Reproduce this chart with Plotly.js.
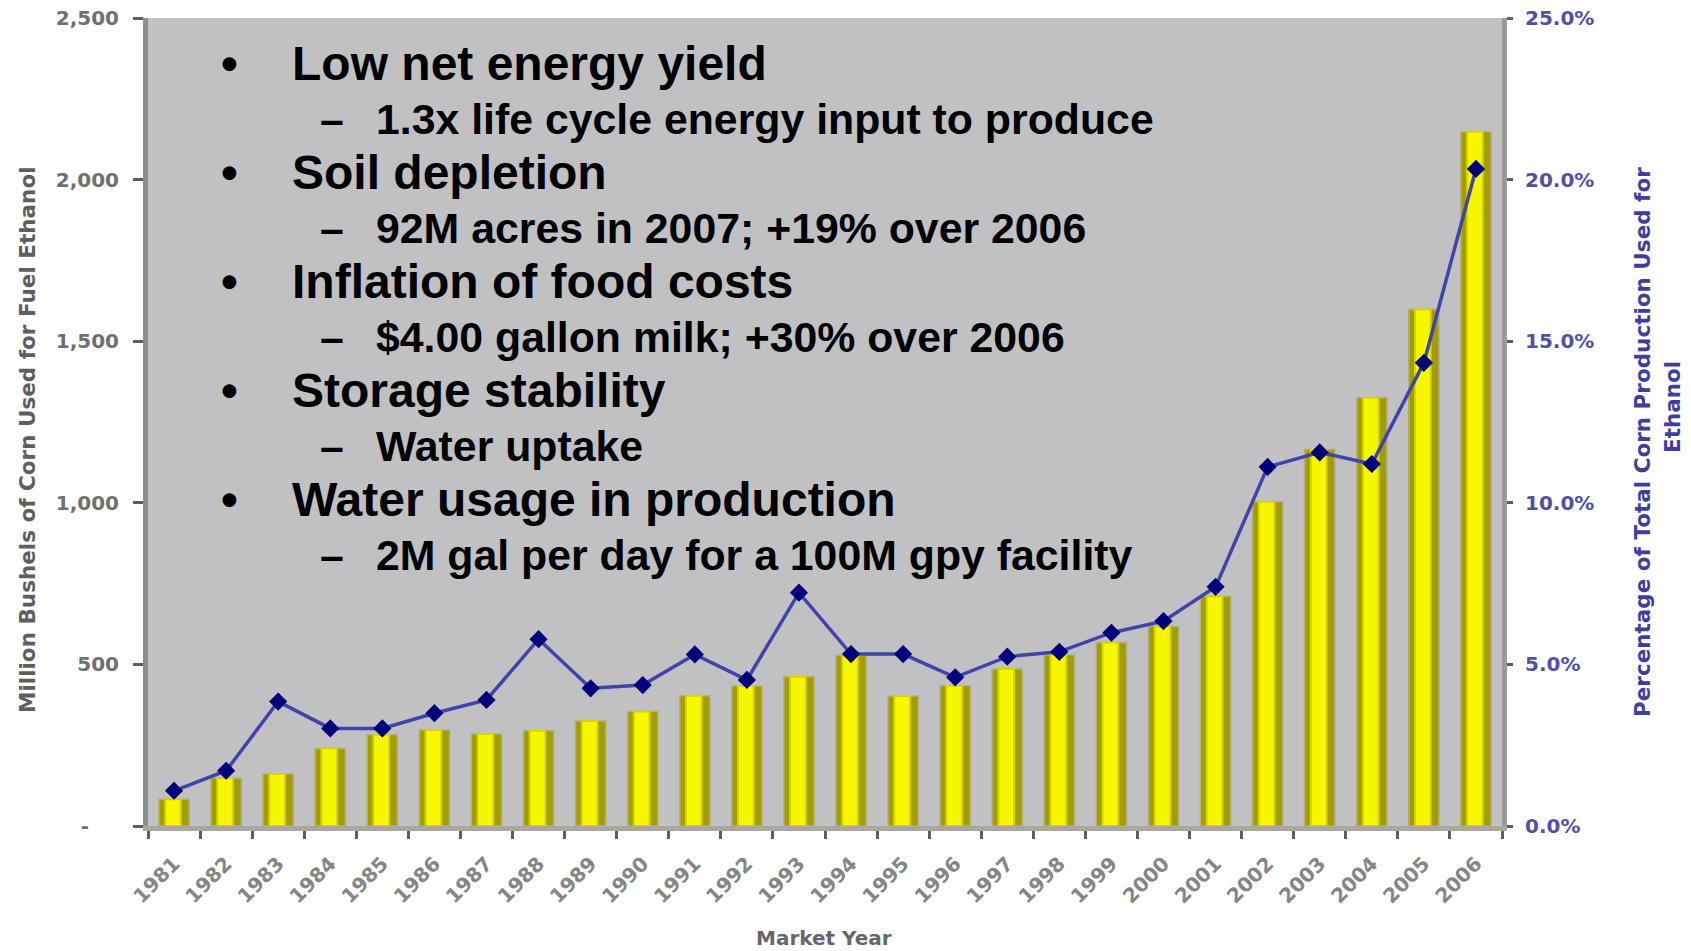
<!DOCTYPE html>
<html>
<head>
<meta charset="utf-8">
<script src="https://cdn.plot.ly/plotly-3.0.1.min.js"></script>
<style>
html,body{margin:0;padding:0;background:#fff;}
#chart{width:1691px;height:951px;}
</style>
</head>
<body>
<div id="chart"></div>
<script>
// ---- data ----
const years = ["1981","1982","1983","1984","1985","1986","1987","1988","1989","1990","1991","1992","1993",
               "1994","1995","1996","1997","1998","1999","2000","2001","2002","2003","2004","2005","2006"];
const bushels = [83,148,161,240,282,297,285,295,325,354,403,433,462,
                 528,402,434,486,529,568,617,710,1003,1165,1325,1598,2148];
const pctCorn = [1.09,1.71,3.85,3.02,3.02,3.49,3.90,5.78,4.26,4.36,5.31,4.52,7.22,
                 5.32,5.32,4.60,5.24,5.39,5.98,6.34,7.40,11.11,11.56,11.20,14.33,20.33];
const leftTickVals = [0,500,1000,1500,2000,2500];
const leftTickText = ["-\u2003\u2002","500","1,000","1,500","2,000","2,500"];
const rightTickVals = [0,5,10,15,20,25];
const rightTickText = ["0.0%","5.0%","10.0%","15.0%","20.0%","25.0%"];
const xTitle = "Market Year";
const leftTitle = "Million Bushels of Corn Used for Fuel Ethanol";
const rightTitleLines = ["Percentage of Total Corn Production Used for","Ethanol"];
const mainPoints = ["Low net energy yield","Soil depletion","Inflation of food costs","Storage stability","Water usage in production"];
const subPoints = ["1.3x life cycle energy input to produce","92M acres in 2007; +19% over 2006",
                   "$4.00 gallon milk; +30% over 2006","Water uptake","2M gal per day for a 100M gpy facility"];

// ---- geometry ----
const W = 1691, H = 951;
const M = {l:148, r:189, t:18, b:125};
const PW = W - M.l - M.r, PH = H - M.t - M.b;
const px2x = p => (p - M.l) / PW;
const py2y = p => (H - M.b - p) / PH;

const traces = [
  {type:'bar', x:years, y:bushels, width:0.58, marker:{color:'#A29E00', line:{color:'#B2AE7E', width:1.5}},
   hoverinfo:'x+y', name:'Bushels'},
  {type:'bar', x:years, y:bushels, width:0.3, offset:-0.17, marker:{color:'#F7F700', line:{color:'#D8D400', width:2}},
   hoverinfo:'skip', name:'Bushels highlight'},
  {type:'scatter', mode:'lines+markers', x:years, y:pctCorn, yaxis:'y2',
   line:{color:'#4242AC', width:3.5}, marker:{symbol:'diamond', size:14, color:'#00007A'}, name:'Percentage'}
];

const annotations = [];
const mainFS = 48, subFS = 42.8, lineStep = 109;
const textFont = (s) => ({family:'Liberation Sans, Arial', size:s, color:'#000', weight:'bold'});
mainPoints.forEach((t,i) => {
  const cy = 80 + i*lineStep - 0.3465*mainFS;
  annotations.push({xref:'paper', yref:'paper', x:px2x(219), y:py2y(cy), xanchor:'left', yanchor:'middle',
    text:'\u2022', showarrow:false, font:textFont(mainFS)});
  annotations.push({xref:'paper', yref:'paper', x:px2x(290), y:py2y(cy), xanchor:'left', yanchor:'middle',
    text:t, showarrow:false, font:textFont(mainFS)});
});
subPoints.forEach((t,i) => {
  const cy = 134 + i*lineStep - 0.3465*subFS;
  annotations.push({xref:'paper', yref:'paper', x:px2x(318), y:py2y(cy), xanchor:'left', yanchor:'middle',
    text:'\u2013', showarrow:false, font:textFont(subFS)});
  annotations.push({xref:'paper', yref:'paper', x:px2x(374), y:py2y(cy), xanchor:'left', yanchor:'middle',
    text:t, showarrow:false, font:textFont(subFS)});
});
// axis titles placed as rotated annotations
annotations.push({xref:'paper', yref:'paper', x:px2x(27), y:py2y(440), xanchor:'center', yanchor:'middle',
  textangle:-90, text:leftTitle, showarrow:false,
  font:{family:'DejaVu Sans', size:21.5, color:'#5E5E5E', weight:'bold'}});
annotations.push({xref:'paper', yref:'paper', x:px2x(1642), y:py2y(442), xanchor:'center', yanchor:'middle',
  textangle:-90, text:rightTitleLines[0], showarrow:false,
  font:{family:'DejaVu Sans', size:21.5, color:'#3E3EA0', weight:'bold'}});
annotations.push({xref:'paper', yref:'paper', x:px2x(1672), y:py2y(407), xanchor:'center', yanchor:'middle',
  textangle:-90, text:rightTitleLines[1], showarrow:false,
  font:{family:'DejaVu Sans', size:21.5, color:'#3E3EA0', weight:'bold'}});
annotations.push({xref:'paper', yref:'paper', x:px2x(824), y:py2y(938), xanchor:'center', yanchor:'middle',
  text:xTitle, showarrow:false,
  font:{family:'DejaVu Sans', size:20, color:'#666666', weight:'bold'}});

const layout = {
  width:W, height:H,
  paper_bgcolor:'#FFFFFF', plot_bgcolor:'#C1C1C4',
  margin:M, showlegend:false, barmode:'overlay', bargap:0,
  xaxis:{type:'category', range:[-0.5, years.length-0.5], tickson:'boundaries', ticks:'outside', ticklen:8, tickwidth:3, tickcolor:'#5E5E5E',
    showline:true, linewidth:5, linecolor:'#A9A79F', showgrid:false, zeroline:false, tickangle:-45,
    ticklabelstandoff:13,
    tickfont:{family:'DejaVu Sans', size:20, color:'#858585', weight:'bold'},
    automargin:false},
  yaxis:{range:[0,2500], tickvals:leftTickVals, ticktext:leftTickText, ticks:'outside', ticklen:10, tickwidth:3,
    tickcolor:'#5E5E5E', showline:true, linewidth:5, linecolor:'#8E8E8E', showgrid:false, zeroline:false,
    ticklabelstandoff:10,
    tickfont:{family:'DejaVu Sans', size:20, color:'#707070', weight:'bold'},
    automargin:false},
  yaxis2:{overlaying:'y', side:'right', range:[0,25], tickvals:rightTickVals, ticktext:rightTickText,
    ticks:'outside', ticklen:6, tickwidth:3, tickcolor:'#5E5E5E', showline:true, linewidth:5, linecolor:'#9A9A9A',
    showgrid:false, zeroline:false, ticklabelstandoff:8,
    tickfont:{family:'DejaVu Sans', size:20, color:'#5050AC', weight:'bold'},
    automargin:false},
  annotations:annotations
};

Plotly.newPlot('chart', traces, layout, {displayModeBar:false, staticPlot:true});
</script>
</body>
</html>
